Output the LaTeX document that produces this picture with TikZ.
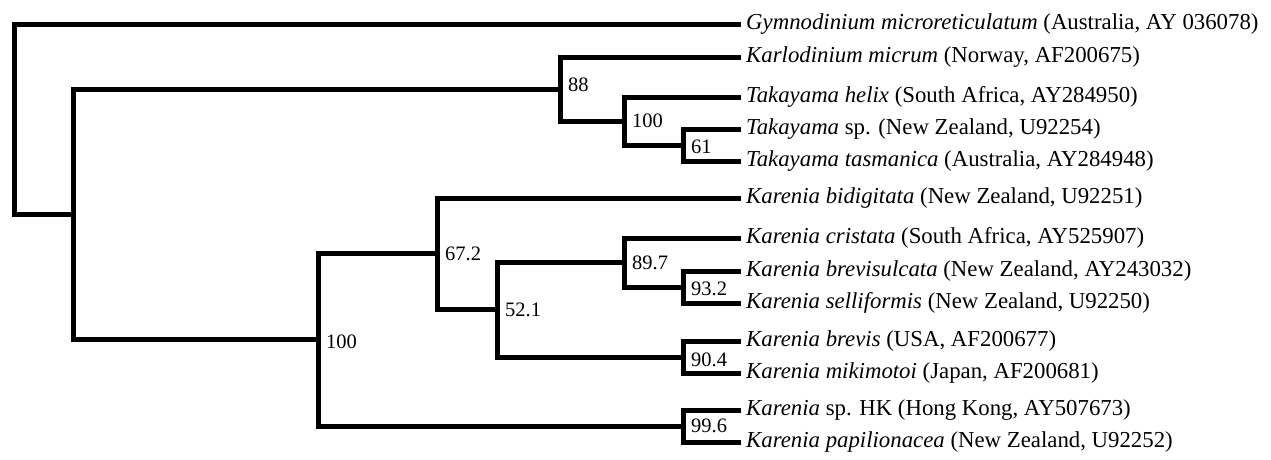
\documentclass[tikz,border=0pt]{standalone}
\usepackage{fontspec}
\setmainfont{Liberation Serif}
\begin{document}
\begin{tikzpicture}[x=1pt,y=-1pt,
  branch/.style={line width=5pt, line join=miter},
  leaf/.style={anchor=west, inner xsep=5pt, inner ysep=0pt, font=\fontsize{22.8}{24}\selectfont, text height=15pt, text depth=5pt},
  support/.style={anchor=west, inner sep=0pt, xshift=8pt, font=\fontsize{20.5}{22}\selectfont}]
\useasboundingbox (0,0) rectangle (1271,459);
% leaves
\node[leaf] (gym) at (741,24) {\textit{Gymnodinium microreticulatum} (Australia, AY 036078)};
\node[leaf] (kar) at (741,57) {\textit{Karlodinium micrum} (Norway, AF200675)};
\node[leaf] (thel) at (741,97) {\textit{Takayama helix} (South Africa, AY284950)};
\node[leaf] (tsp) at (741,129) {\textit{Takayama} sp. (New Zealand, U92254)};
\node[leaf] (ttas) at (741,161) {\textit{Takayama tasmanica} (Australia, AY284948)};
\node[leaf] (kbid) at (741,198) {\textit{Karenia bidigitata} (New Zealand, U92251)};
\node[leaf] (kcri) at (741,238) {\textit{Karenia cristata} (South Africa, AY525907)};
\node[leaf] (kbrs) at (741,271) {\textit{Karenia brevisulcata} (New Zealand, AY243032)};
\node[leaf] (ksel) at (741,303) {\textit{Karenia selliformis} (New Zealand, U92250)};
\node[leaf] (kbre) at (741,341) {\textit{Karenia brevis} (USA, AF200677)};
\node[leaf] (kmik) at (741,373) {\textit{Karenia mikimotoi} (Japan, AF200681)};
\node[leaf] (ksp) at (741,410) {\textit{Karenia} sp. HK (Hong Kong, AY507673)};
\node[leaf] (kpap) at (741,442) {\textit{Karenia papilionacea} (New Zealand, U92252)};
% internal nodes
\coordinate (n61) at (683,145);
\coordinate (t100) at (624,121);
\coordinate (n88) at (560,89);
\coordinate (n932) at (683,287);
\coordinate (n897) at (624,262.5);
\coordinate (n904) at (683,357);
\coordinate (n521) at (497,309.5);
\coordinate (n672) at (437,253.5);
\coordinate (n996) at (683,426);
\coordinate (k100) at (318,339.5);
\coordinate (nA) at (73,214);
\coordinate (root) at (14,119);
% branches
\draw[branch] (n61) |- (tsp.west); \draw[branch] (n61) |- (ttas.west);
\draw[branch] (t100) |- (thel.west); \draw[branch] (t100) |- (n61);
\draw[branch] (n88) |- (kar.west); \draw[branch] (n88) |- (t100);
\draw[branch] (n932) |- (kbrs.west); \draw[branch] (n932) |- (ksel.west);
\draw[branch] (n897) |- (kcri.west); \draw[branch] (n897) |- (n932);
\draw[branch] (n904) |- (kbre.west); \draw[branch] (n904) |- (kmik.west);
\draw[branch] (n521) |- (n897); \draw[branch] (n521) |- (n904);
\draw[branch] (n672) |- (kbid.west); \draw[branch] (n672) |- (n521);
\draw[branch] (n996) |- (ksp.west); \draw[branch] (n996) |- (kpap.west);
\draw[branch] (k100) |- (n672); \draw[branch] (k100) |- (n996);
\draw[branch] (nA) |- (n88); \draw[branch] (nA) |- (k100);
\draw[branch] (root) |- (gym.west); \draw[branch] (root) |- (nA);
% support values
\node[support, yshift=-2pt] (s61) at (n61) {61};
\node[support] (st100) at (t100) {100};
\node[support, yshift=4pt] (s88) at (n88) {88};
\node[support, yshift=-2pt] (s932) at (n932) {93.2};
\node[support] (s897) at (n897) {89.7};
\node[support, yshift=-3pt] (s904) at (n904) {90.4};
\node[support] (s521) at (n521) {52.1};
\node[support] (s672) at (n672) {67.2};
\node[support] (s996) at (n996) {99.6};
\node[support, yshift=-2pt] (sk100) at (k100) {100};
\end{tikzpicture}
\end{document}
